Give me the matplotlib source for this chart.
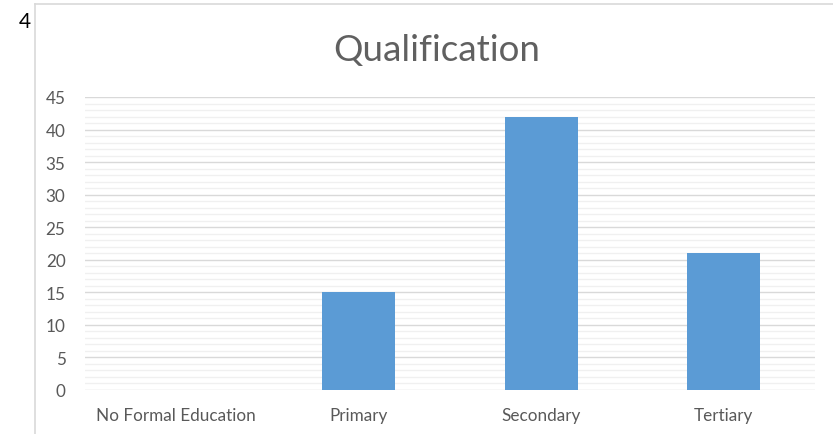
import matplotlib
matplotlib.use("Agg")
import matplotlib.pyplot as plt
from matplotlib.lines import Line2D
import numpy as np

categories = ["No Formal Education", "Primary", "Secondary", "Tertiary"]
values = [0, 15, 42, 21]
yticks = [0, 5, 10, 15, 20, 25, 30, 35, 40, 45]
title = "Qualification"

plt.rcParams['font.family'] = ['Lato', 'DejaVu Sans']

W, H = 833, 435
fig = plt.figure(figsize=(W/100, H/100), dpi=100)

# plot area
x0, x1 = 85, 815
ytop, ybot = 98, 391
ax = fig.add_axes([x0/W, 1 - ybot/H, (x1-x0)/W, (ybot-ytop)/H])
ax.set_xlim(-0.5, len(categories) - 0.5)
ax.set_ylim(0, 45)

xs = np.arange(len(categories))
ax.bar(xs, values, width=0.4, color="#5b9bd5", zorder=3)

# minor gridlines
for v in range(0, 46):
    if v % 5 != 0:
        ax.axhline(v, color="#f0f0f0", lw=1.0, zorder=1)
for v in yticks:
    ax.axhline(v, color="#d9d9d9", lw=1.0, zorder=2)

ax.set_yticks(yticks)
ax.set_yticklabels([str(v) for v in yticks], fontsize=12.3, color="#595959")
ax.set_xticks(xs)
ax.set_xticklabels(categories, fontsize=12.3, color="#595959")
ax.tick_params(axis='both', length=0)
ax.tick_params(axis='y', pad=14)
ax.tick_params(axis='x', pad=12)
for s in ax.spines.values():
    s.set_visible(False)

fig.text(437 / W, 1 - 51 / H, title, fontsize=26.5, color="#606060",
         ha="center", va="center")

# chart frame
fig.add_artist(Line2D([35/W, 35/W], [0, 1 - 5/H], color="#d9d9d9", lw=1.2,
                      transform=fig.transFigure))
fig.add_artist(Line2D([35/W, 1], [1 - 5/H, 1 - 5/H], color="#d9d9d9", lw=1.2,
                      transform=fig.transFigure))

fig.text(19/W, 1 - 22/H, "4", fontsize=15, color="black", ha="left", va="center")

fig.savefig("out.png", dpi=100)
